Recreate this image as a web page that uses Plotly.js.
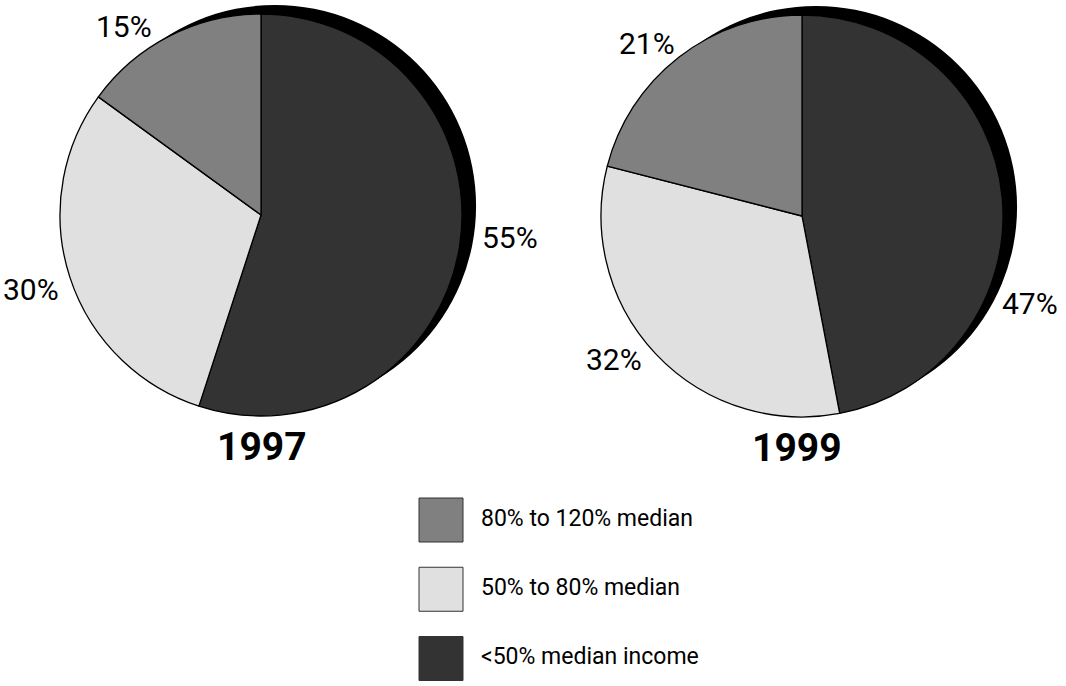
<!DOCTYPE html>
<html>
<head>
<meta charset="utf-8">
<script src="https://cdn.plot.ly/plotly-3.0.1.min.js"></script>
<style>html,body{margin:0;padding:0;background:#fff;}#chart{width:1066px;height:686px;}</style>
</head>
<body>
<div id="chart"></div>
<script>
const categories = ['<50% median income', '50% to 80% median', '80% to 120% median'];
const values1997 = [55, 30, 15];
const values1999 = [47, 32, 21];
const years = ['1997', '1999'];
const sliceColors = ['#333333', '#e0e0e0', '#808080'];
const shadowValue = [1];

const FONT = 'Roboto, "DejaVu Sans Condensed", sans-serif';

function pieTrace(vals, dom) {
  return {
    type: 'pie', values: vals, labels: categories, sort: false,
    direction: 'clockwise', rotation: 0,
    marker: {colors: sliceColors, line: {color: '#000', width: 1.3}},
    textinfo: 'none',
    hoverinfo: 'label+value', showlegend: false, domain: dom
  };
}
function shadowTrace(dom) {
  return {
    type: 'pie', values: shadowValue, labels: ['shadow'], sort: false,
    marker: {colors: ['#000000'], line: {width: 0}},
    textinfo: 'none', hoverinfo: 'skip', showlegend: false, domain: dom
  };
}

const data = [
  shadowTrace({x: [0.06942, 0.44653], y: [0.40671, 0.99271]}),
  pieTrace(values1997, {x: [0.05629, 0.43340], y: [0.39359, 0.97959]}),
  shadowTrace({x: [0.57692, 0.95403], y: [0.40525, 0.99125]}),
  pieTrace(values1999, {x: [0.56379, 0.94090], y: [0.39213, 0.97813]}),
  {
    type: 'scatter', mode: 'markers',
    x: categories.map(() => 0), y: categories,
    marker: {symbol: 'square', size: 44, color: sliceColors, line: {color: '#333', width: 1}},
    cliponaxis: false, hoverinfo: 'skip', showlegend: false
  },
  {
    type: 'scatter', mode: 'text',
    x: categories.map(() => 0.064), y: categories,
    text: categories, textposition: 'middle right',
    textfont: {family: FONT, size: 23, color: '#000'},
    cliponaxis: false, hoverinfo: 'text', showlegend: false
  }
];

const pctFont = {family: FONT, size: 30, color: '#000'};
const yearFont = {family: FONT, size: 39, weight: 'bold', color: '#000'};
function ann(text, px, py, font) {
  return {text: text, xref: 'paper', yref: 'paper', x: px / 1066, y: 1 - py / 686,
          xanchor: 'center', yanchor: 'middle', showarrow: false, font: font};
}

const layout = {
  width: 1066, height: 686,
  margin: {l: 0, r: 0, t: 0, b: 0},
  paper_bgcolor: '#fff', plot_bgcolor: 'rgba(0,0,0,0)',
  showlegend: false,
  font: {family: FONT, color: '#000'},
  xaxis: {domain: [0.4137, 1], range: [0, 1], visible: false, fixedrange: true},
  yaxis: {domain: [0.04009, 0.24198], range: [0, 2], type: 'category',
          categoryorder: 'array', categoryarray: categories, visible: false, fixedrange: true},
  annotations: [
    ann(values1997[0] + '%', 510, 238, pctFont),
    ann(values1997[1] + '%', 31, 289, pctFont),
    ann(values1997[2] + '%', 124, 27, pctFont),
    ann(values1999[0] + '%', 1030, 303, pctFont),
    ann(values1999[1] + '%', 614, 360, pctFont),
    ann(values1999[2] + '%', 647, 43, pctFont),
    ann(years[0], 262, 447, yearFont),
    ann(years[1], 797, 448, yearFont)
  ]
};

Plotly.newPlot('chart', data, layout, {displayModeBar: false, staticPlot: true});
</script>
</body>
</html>
